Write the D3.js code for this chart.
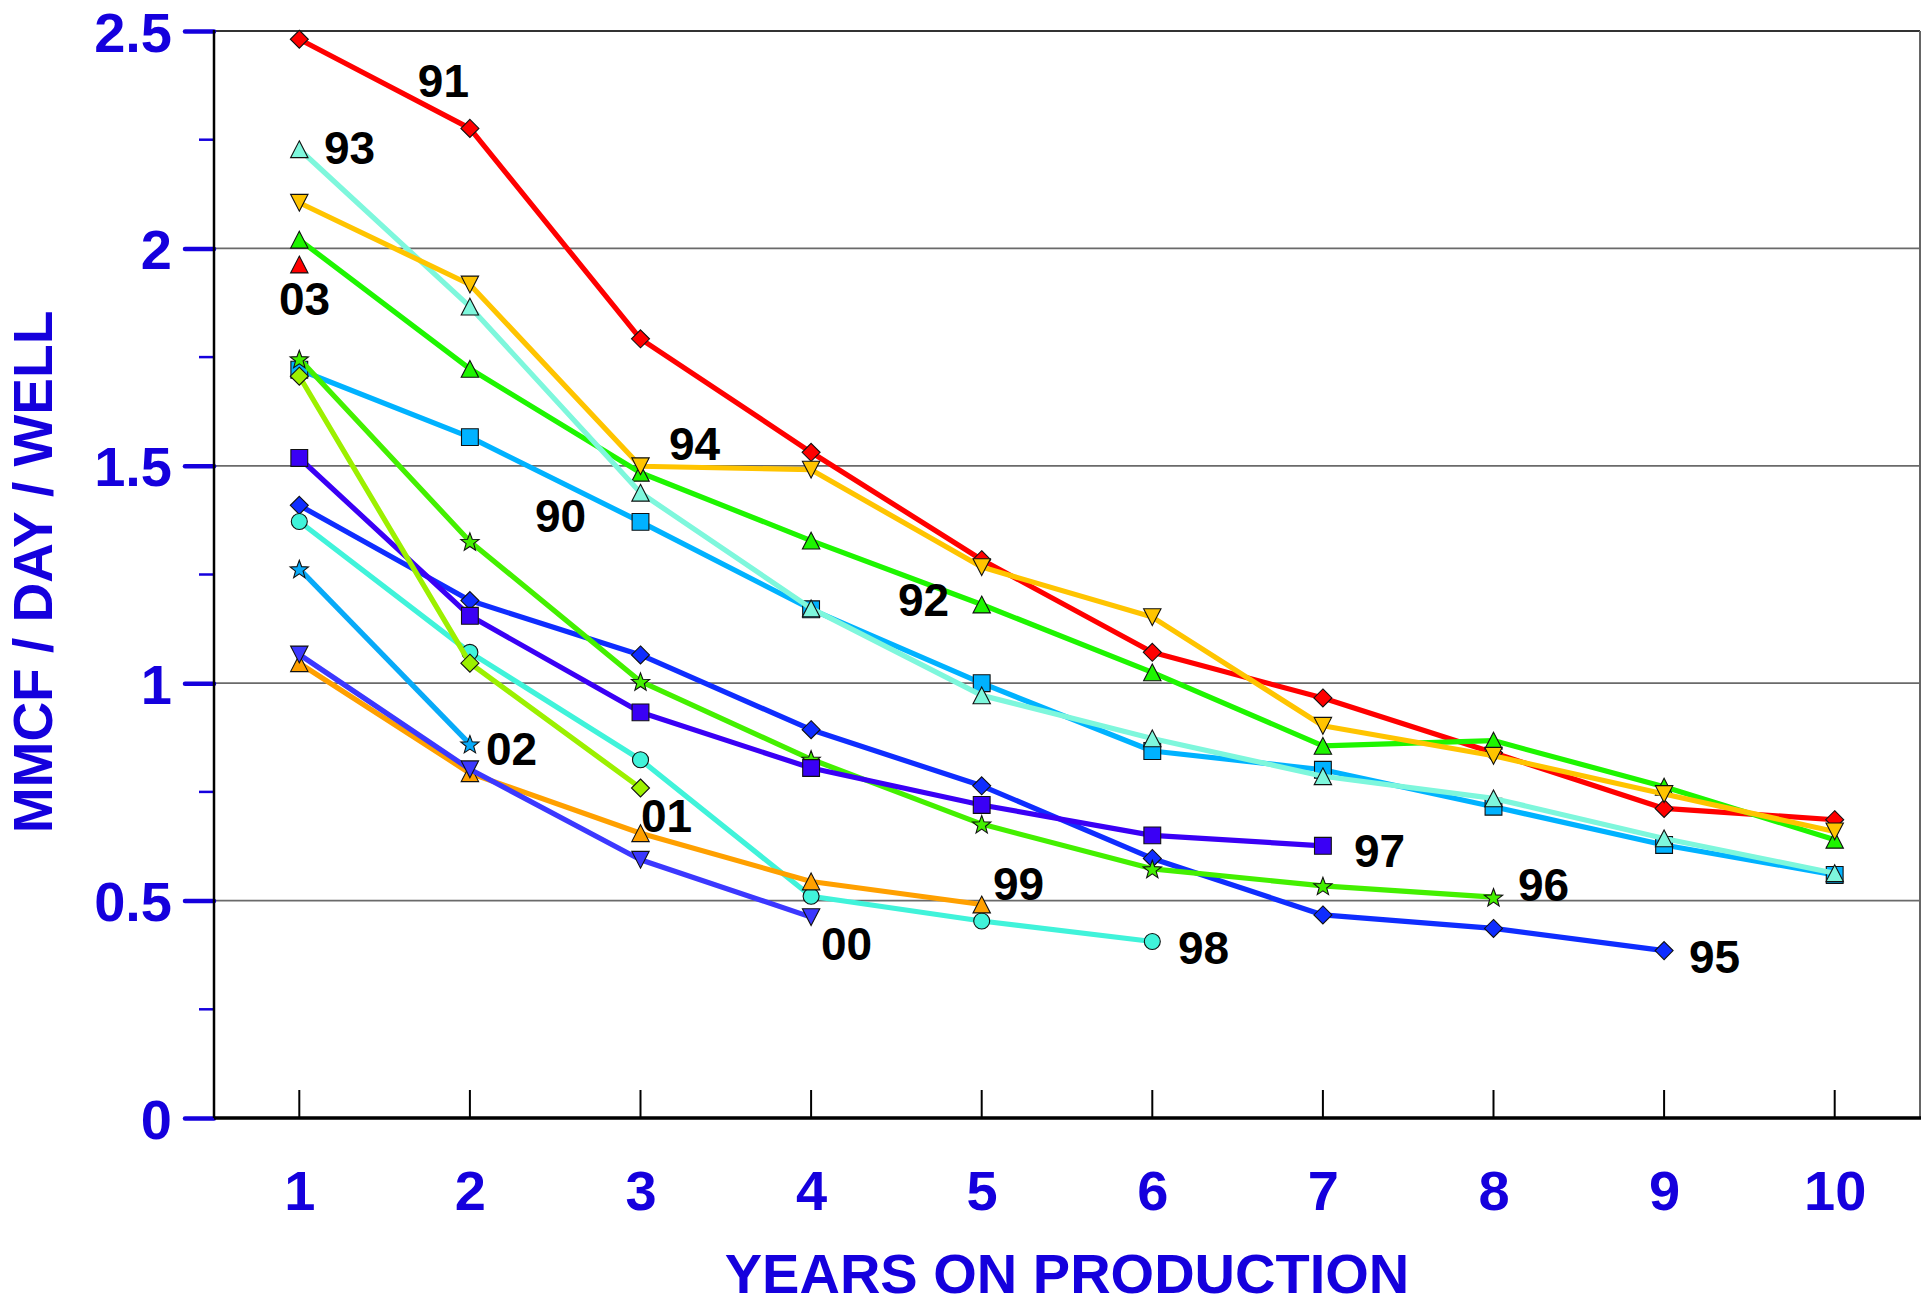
<!DOCTYPE html>
<html>
<head>
<meta charset="utf-8">
<script src="https://cdn.jsdelivr.net/npm/d3@7"></script>
<style>
html, body { margin: 0; padding: 0; background: #ffffff; }
svg { display: block; }
text { font-family: "Liberation Sans", Arial, sans-serif; font-weight: bold; }
</style>
</head>
<body>
<script>
// ---------------- DATA ----------------
const years = [1, 2, 3, 4, 5, 6, 7, 8, 9, 10];
const xTickLabels = ["1", "2", "3", "4", "5", "6", "7", "8", "9", "10"];
const yTickValues = [0, 0.5, 1, 1.5, 2, 2.5];
const yTickLabels = ["0", "0.5", "1", "1.5", "2", "2.5"];
const yMinorTicks = [0.25, 0.75, 1.25, 1.75, 2.25];

const s90 = [1.721, 1.566, 1.371, 1.170, 1.000, 0.844, 0.801, 0.716, 0.628, 0.559];
const s91 = [2.481, 2.276, 1.792, 1.531, 1.284, 1.071, 0.966, 0.840, 0.712, 0.686];
const s92 = [2.020, 1.723, 1.484, 1.328, 1.181, 1.025, 0.856, 0.868, 0.762, 0.640];
const s93 = [2.228, 1.866, 1.438, 1.172, 0.972, 0.873, 0.786, 0.735, 0.643, 0.563];
const s94 = [2.105, 1.917, 1.499, 1.491, 1.267, 1.152, 0.902, 0.833, 0.745, 0.659];
const s95 = [1.409, 1.190, 1.065, 0.893, 0.764, 0.597, 0.467, 0.436, 0.385];
const s96 = [1.746, 1.326, 1.004, 0.825, 0.676, 0.573, 0.534, 0.508];
const s97 = [1.518, 1.155, 0.933, 0.805, 0.720, 0.650, 0.626];
const s98 = [1.372, 1.071, 0.824, 0.510, 0.453, 0.406];
const s99 = [1.046, 0.793, 0.655, 0.544, 0.491];
const s00 = [1.066, 0.802, 0.594, 0.462];
const s01 = [1.706, 1.046, 0.759];
const s02 = [1.263, 0.860];
const s03 = [1.963];

const seriesNames = ["90", "91", "92", "93", "94", "95", "96", "97", "98", "99", "00", "01", "02", "03"];
const seriesValues = [s90, s91, s92, s93, s94, s95, s96, s97, s98, s99, s00, s01, s02, s03];

// ---------------- STYLE / LAYOUT ----------------
const seriesColors = {
  "90": "#00b2ff", "91": "#ff0000", "92": "#1ef500", "93": "#7ef7dc", "94": "#ffc400",
  "95": "#0f2dff", "96": "#44f000", "97": "#3a00f5", "98": "#40f3da", "99": "#ffa000",
  "00": "#3c38ff", "01": "#9cf000", "02": "#08aaf8", "03": "#ff0000"
};
const seriesMarkers = {
  "90": "square", "91": "diamond", "92": "triUp", "93": "triUp", "94": "triDown",
  "95": "diamond", "96": "star", "97": "square", "98": "circle", "99": "triUp",
  "00": "triDown", "01": "diamond", "02": "star", "03": "triUp"
};
// label anchor (left, baseline) in data units
const labelLayout = {
  "91": [1.695, 2.348], "93": [1.145, 2.194], "03": [0.881, 1.847], "94": [3.167, 1.513],
  "90": [2.381, 1.348], "92": [4.509, 1.155], "02": [2.094, 0.812], "01": [3.003, 0.658],
  "97": [7.182, 0.577], "99": [5.066, 0.501], "96": [8.143, 0.499], "00": [4.058, 0.363],
  "98": [6.150, 0.354], "95": [9.146, 0.333]
};

const W = 1929, H = 1306;
const plot = { left: 214, right: 1920, top: 31, bottom: 1118 };
const blue = "#1500dd";

const svg = d3.select("body").append("svg").attr("width", W).attr("height", H);

const x = d3.scaleLinear().domain([0.5, 10.5]).range([plot.left, plot.right]);
const y = d3.scaleLinear().domain([0, 2.5]).range([plot.bottom, plot.top]);

// gridlines
svg.append("g").selectAll("line").data(yTickValues.filter(v => v > 0 && v < 2.5)).join("line")
  .attr("x1", plot.left).attr("x2", plot.right)
  .attr("y1", d => y(d)).attr("y2", d => y(d))
  .attr("stroke", "#6a6a6a").attr("stroke-width", 1.8);

// frame top & right
svg.append("line").attr("x1", plot.left).attr("x2", plot.right).attr("y1", plot.top).attr("y2", plot.top)
  .attr("stroke", "#333").attr("stroke-width", 2);
svg.append("line").attr("x1", plot.right).attr("x2", plot.right).attr("y1", plot.top).attr("y2", plot.bottom)
  .attr("stroke", "#666").attr("stroke-width", 2);

// Y axis via d3.axisLeft (major)
const yAxis = d3.axisLeft(y).tickValues(yTickValues).tickFormat((d, i) => yTickLabels[i])
  .tickSize(29).tickPadding(13);
const gy = svg.append("g").attr("transform", `translate(${plot.left},0)`).call(yAxis);
gy.select(".domain").remove();
gy.selectAll(".tick line").attr("stroke", blue).attr("stroke-width", 4.5).attr("stroke-linecap", "round");
gy.selectAll(".tick text").attr("fill", blue).attr("font-size", 56)
  .attr("font-family", "'Liberation Sans', Arial, sans-serif").attr("font-weight", "bold")
  .attr("dy", "0.36em");
// minor ticks
svg.append("g").selectAll("line").data(yMinorTicks).join("line")
  .attr("x1", plot.left - 15).attr("x2", plot.left)
  .attr("y1", d => y(d)).attr("y2", d => y(d))
  .attr("stroke", blue).attr("stroke-width", 2.5);

// X axis
const xAxis = d3.axisBottom(x).tickValues(years).tickFormat((d, i) => xTickLabels[i])
  .tickSize(0).tickPadding(52);
const gx = svg.append("g").attr("transform", `translate(0,${plot.bottom})`).call(xAxis);
gx.select(".domain").remove();
gx.selectAll(".tick text").attr("fill", blue).attr("font-size", 56)
  .attr("font-family", "'Liberation Sans', Arial, sans-serif").attr("font-weight", "bold")
  .attr("dy", 0).attr("y", 92);
// inward x ticks
svg.append("g").selectAll("line").data(years).join("line")
  .attr("x1", d => x(d)).attr("x2", d => x(d))
  .attr("y1", plot.bottom - 28).attr("y2", plot.bottom)
  .attr("stroke", "#000").attr("stroke-width", 2);

// axis lines
svg.append("line").attr("x1", plot.left).attr("x2", plot.left).attr("y1", plot.top - 1).attr("y2", plot.bottom)
  .attr("stroke", "#000").attr("stroke-width", 2.5);
svg.append("line").attr("x1", plot.left).attr("x2", plot.right + 1).attr("y1", plot.bottom).attr("y2", plot.bottom)
  .attr("stroke", "#000").attr("stroke-width", 3.5);

// axis titles
svg.append("text").attr("x", (plot.left + plot.right) / 2).attr("y", 1293)
  .attr("text-anchor", "middle").attr("font-size", 56).attr("fill", blue)
  .text("YEARS ON PRODUCTION");
svg.append("text").attr("transform", "translate(52,572) rotate(-90)")
  .attr("text-anchor", "middle").attr("font-size", 55).attr("fill", blue)
  .text("MMCF / DAY / WELL");

// marker paths
function markerPath(type) {
  const h = 8.4;
  switch (type) {
    case "square": return `M${-h},${-h}H${h}V${h}H${-h}Z`;
    case "diamond": return `M0,${-h - 0.6}L${h + 0.6},0L0,${h + 0.6}L${-h - 0.6},0Z`;
    case "triUp": return `M0,${-h}L${h + 0.3},${h}L${-h - 0.3},${h}Z`;
    case "triDown": return `M0,${h}L${h + 0.3},${-h}L${-h - 0.3},${-h}Z`;
    case "circle": return d3.symbol(d3.symbolCircle, Math.PI * 8 * 8)();
    case "star": {
      const R = 9.6, r = 4.0, pts = [];
      for (let k = 0; k < 10; k++) {
        const a = -Math.PI / 2 + k * Math.PI / 5;
        const rr = k % 2 === 0 ? R : r;
        pts.push([rr * Math.cos(a), rr * Math.sin(a) + 1]);
      }
      return "M" + pts.map(p => p.join(",")).join("L") + "Z";
    }
  }
}

const line = d3.line().x((d, i) => x(years[i])).y(d => y(d));

const gSeries = svg.append("g");
seriesNames.forEach((name, si) => {
  const vals = seriesValues[si];
  const g = gSeries.append("g");
  if (vals.length > 1) {
    g.append("path").datum(vals).attr("d", line)
      .attr("fill", "none").attr("stroke", seriesColors[name]).attr("stroke-width", 5.2)
      .attr("stroke-linejoin", "round");
  }
  g.selectAll("path.mk").data(vals).join("path").attr("class", "mk")
    .attr("transform", (d, i) => `translate(${x(years[i])},${y(d)})`)
    .attr("d", markerPath(seriesMarkers[name]))
    .attr("fill", seriesColors[name]).attr("stroke", "#111").attr("stroke-width", 1.1);
});

// series labels
svg.append("g").selectAll("text").data(seriesNames).join("text")
  .attr("x", d => x(labelLayout[d][0]))
  .attr("y", d => y(labelLayout[d][1]))
  .attr("font-size", 46).attr("fill", "#000")
  .text(d => d);
</script>
</body>
</html>
